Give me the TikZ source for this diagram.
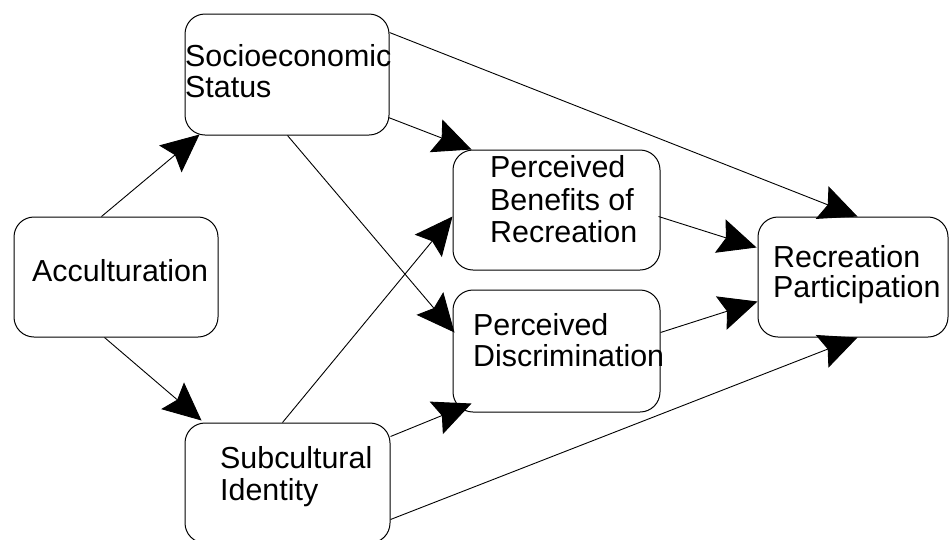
\documentclass[tikz,border=0pt]{standalone}
\usepackage{fontspec}
\setmainfont{Liberation Sans}
\usetikzlibrary{arrows.meta,calc}
\begin{document}
\begin{tikzpicture}[x=1pt,y=-1pt,
  box/.style={draw, line width=1pt, rounded corners=20pt, inner sep=0pt},
  lbl/.style={anchor=base west, inner sep=0pt, font=\fontsize{30.4}{32}\selectfont},
  conn/.style={line width=0.9pt, -{Stealth[length=38pt,width=35pt,inset=6pt]}}]
\useasboundingbox (0,0) rectangle (949,539);
% boxes
\node[box, minimum width=204pt, minimum height=120pt] (acc) at (116,277) {};
\node[box, minimum width=204pt, minimum height=121pt] (socio) at (287,74.5) {};
\node[box, minimum width=207pt, minimum height=120pt] (pb) at (556.5,210) {};
\node[box, minimum width=207pt, minimum height=122pt] (pd) at (556.5,351) {};
\node[box, minimum width=205pt, minimum height=120pt] (sub) at (287.5,483) {};
\node[box, minimum width=190pt, minimum height=120pt] (rp) at (853,277) {};
% labels
\node[lbl] (accT) at (32,281.5) {Acculturation};
\node[lbl] (socioT1) at (185,66.5) {Socioeconomic};
\node[lbl] (socioT2) at (185,97) {Status};
\node[lbl] (pbT1) at (490,177) {Perceived};
\node[lbl] (pbT2) at (490,210) {Benefits of};
\node[lbl] (pbT3) at (490,242) {Recreation};
\node[lbl] (pdT1) at (473,335) {Perceived};
\node[lbl] (pdT2) at (473,366.5) {Discrimination};
\node[lbl] (subT1) at (220,468) {Subcultural};
\node[lbl] (subT2) at (220,500) {Identity};
\node[lbl] (rpT1) at (773,267.5) {Recreation};
\node[lbl] (rpT2) at (773,297) {Participation};
% connectors
\draw[conn] ($(acc.north west)+(88,0)$) -- ($(socio.south west)+(15,-1)$);
\draw[conn] ($(acc.south west)+(91,0)$) -- ($(sub.north west)+(17,-2)$);
\draw[conn] ($(socio.south east)+(-1,-18)$) -- ($(pb.north west)+(19,0)$);
\draw[conn] ($(socio.north east)+(0,19)$) -- ($(rp.north west)+(100,0)$);
\draw[conn] ($(socio.south west)+(103,0)$) -- ($(pd.north west)+(2,43)$);
\draw[conn] ($(sub.north west)+(98,0)$) -- ($(pb.north west)+(0,67)$);
\draw[conn] ($(sub.north east)+(0,14)$) -- ($(pd.south west)+(19,-9)$);
\draw[conn] ($(sub.north east)+(0,97)$) -- ($(rp.south west)+(100,0)$);
\draw[conn] ($(pb.north east)+(-2,67)$) -- ($(rp.north west)+(-1,31)$);
\draw[conn] ($(pd.north east)+(0,43)$) -- ($(rp.north west)+(0,85)$);
\end{tikzpicture}
\end{document}
